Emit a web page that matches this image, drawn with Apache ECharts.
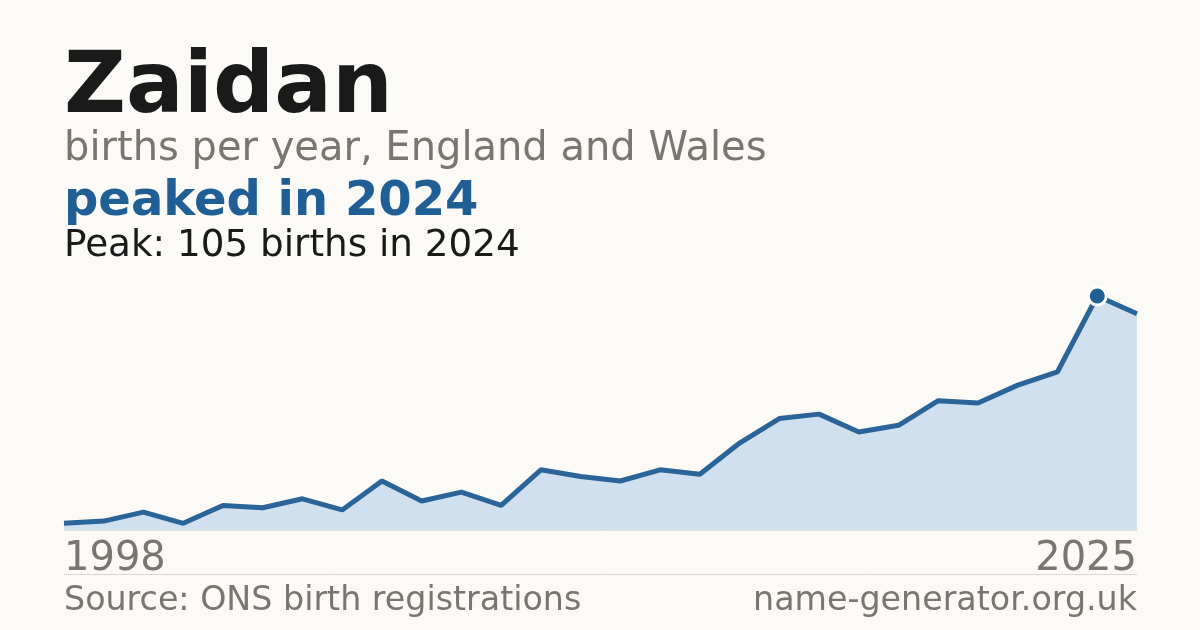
<!DOCTYPE html>
<html>
<head>
<meta charset="utf-8">
<script src="https://cdn.jsdelivr.net/npm/echarts@6/dist/echarts.min.js"></script>
<style>
html,body{margin:0;padding:0;background:#fbfaf6;}
#c{width:1200px;height:630px;}
</style>
</head>
<body>
<div id="c"></div>
<script>
var years = ['1998','1999','2000','2001','2002','2003','2004','2005','2006','2007','2008','2009','2010','2011','2012','2013','2014','2015','2016','2017','2018','2019','2020','2021','2022','2023','2024','2025'];
var births = [3,4,8,3,11,10,14,9,22,13,17,11,27,24,22,27,25,39,50,52,44,47,58,57,65,71,105,97];
var nameText = 'Zaidan';
var subtitleText = 'births per year, England and Wales';
var sourceText = 'Source: ONS birth registrations';
var siteText = 'name-generator.org.uk';

var peakVal = Math.max.apply(null, births);
var peakIdx = births.indexOf(peakVal);
var peakYear = years[peakIdx];

var FONT = '"DejaVu Sans", Verdana, sans-serif';
var chart = echarts.init(document.getElementById('c'), null, {renderer:'canvas'});

function txt(x, y, text, size, weight, color, align) {
  return {
    type: 'text', x: x, y: y, silent: true,
    style: {
      text: text, fill: color,
      font: weight + ' ' + size + 'px ' + FONT,
      textAlign: align || 'left', align: align || 'left',
      textVerticalAlign: 'middle', verticalAlign: 'middle'
    }
  };
}

chart.setOption({
  backgroundColor: '#fbfaf6',
  animation: false,
  grid: {left: 64, right: 63, top: 296, bottom: 100},
  xAxis: {
    type: 'category',
    data: years,
    boundaryGap: false,
    axisLine: {show: true, lineStyle: {color: '#e4e0d8', width: 1}},
    axisTick: {show: false},
    splitLine: {show: false},
    axisLabel: {
      interval: function (i) { return i === 0 || i === years.length - 1; },
      color: '#7a756e',
      fontFamily: FONT,
      fontSize: 40,
      margin: 10,
      alignMinLabel: 'left',
      alignMaxLabel: 'right'
    }
  },
  yAxis: {
    type: 'value',
    min: 0,
    max: function (v) { return v.max; },
    show: false,
    splitLine: {show: false}
  },
  series: [
    {
      type: 'line',
      data: births,
      symbol: 'none',
      lineStyle: {color: '#2b6498', width: 5},
      areaStyle: {color: '#d0e0ef', opacity: 1},
      z: 2
    },
    {
      type: 'scatter',
      data: [[peakYear, peakVal]],
      symbol: 'circle',
      symbolSize: 18,
      itemStyle: {color: '#1f5f96', borderColor: '#ffffff', borderWidth: 3, opacity: 1},
      z: 3
    }
  ],
  graphic: [
    txt(64, 90, nameText, 85.5, 'bold', '#1a1a1a'),
    txt(64, 150, subtitleText, 40, 'normal', '#7a756e'),
    txt(64, 203, 'peaked in ' + peakYear, 48, 'bold', '#1f5f96'),
    txt(64, 246, 'Peak: ' + peakVal + ' births in ' + peakYear, 37.3, 'normal', '#1a1a1a'),
    {
      type: 'line', silent: true,
      shape: {x1: 64, y1: 574.5, x2: 1137, y2: 574.5},
      style: {stroke: '#dcd8d1', lineWidth: 1}
    },
    txt(64, 601.5, sourceText, 33.3, 'normal', '#7a756e'),
    txt(1137, 601.5, siteText, 33.3, 'normal', '#7a756e', 'right')
  ]
});
</script>
</body>
</html>
